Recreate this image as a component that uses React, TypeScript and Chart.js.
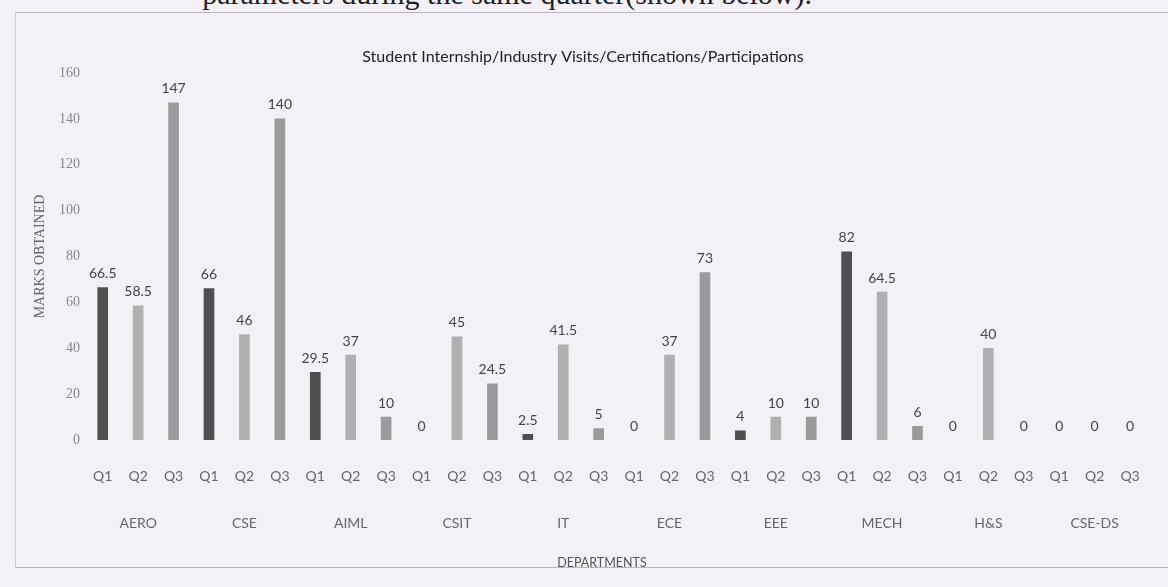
import React, { useEffect, useRef } from "react";
import { Chart, registerables } from "chart.js";

Chart.register(...registerables);

const departments = ["AERO", "CSE", "AIML", "CSIT", "IT", "ECE", "EEE", "MECH", "H&S", "CSE-DS"];
const quarters = ["Q1", "Q2", "Q3"];
const q1Values = [66.5, 66, 29.5, 0, 2.5, 0, 4, 82, 0, 0];
const q2Values = [58.5, 46, 37, 45, 41.5, 37, 10, 64.5, 40, 0];
const q3Values = [147, 140, 10, 24.5, 5, 73, 10, 6, 0, 0];
const yTicks = [0, 20, 40, 60, 80, 100, 120, 140, 160];
const quarterColors = ["#4f4f4f", "#b0b0b0", "#9a9a9a"];
const xAxisTitle = "DEPARTMENTS";

const FONT = "Lato, 'Open Sans', 'Noto Sans', sans-serif";
const SERIF = "'Liberation Serif', 'DejaVu Serif', serif";

export default function App() {
  const ref = useRef<HTMLCanvasElement | null>(null);

  useEffect(() => {
    const canvas = ref.current;
    if (!canvas) return;

    const labels: string[] = [];
    const values: number[] = [];
    const colors: string[] = [];
    const series = [q1Values, q2Values, q3Values];
    departments.forEach((_, d) => {
      quarters.forEach((q, qi) => {
        const v = series[qi][d];
        labels.push(q);
        values.push(v);
        colors.push(v === 0 ? "rgba(0,0,0,0)" : quarterColors[qi]);
      });
    });

    const valueLabels = {
      id: "valueLabels",
      afterDatasetsDraw(chart: any) {
        const ctx = chart.ctx;
        const meta = chart.getDatasetMeta(0);
        const data = chart.data.datasets[0].data;
        ctx.save();
        ctx.font = `14px ${FONT}`;
        ctx.fillStyle = "#444";
        ctx.textAlign = "center";
        ctx.textBaseline = "bottom";
        meta.data.forEach((el: any, i: number) => {
          ctx.fillText(String(data[i]), el.x, el.y - 7);
        });
        // x axis title, placed under the chart like the original
        const x2 = chart.scales.x2;
        ctx.font = `12.5px ${FONT}`;
        ctx.fillStyle = "#555";
        ctx.textBaseline = "middle";
        ctx.fillText(xAxisTitle, 602, x2.bottom - 12);
        ctx.restore();
      },
    };

    const chart = new Chart(canvas, {
      type: "bar",
      data: {
        labels,
        datasets: [
          {
            data: values,
            backgroundColor: colors,
            borderWidth: 0,
            barThickness: 10,
          },
        ],
      },
      options: {
        animation: false,
        responsive: false,
        layout: { padding: { left: 15, right: 17, top: 0, bottom: 12 } },
        plugins: {
          legend: { display: false },
          tooltip: { enabled: false },
          title: {
            display: true,
            text: "Student Internship/Industry Visits/Certifications/Participations",
            color: "#222",
            font: { family: FONT, size: 16, weight: "normal" },
            padding: { top: 47.4, bottom: 6.4 },
          },
        },
        scales: {
          x: {
            type: "category",
            position: "bottom",
            weight: 0,
            grid: { display: false, drawTicks: false },
            border: { display: false },
            ticks: {
              color: "#666",
              font: { family: FONT, size: 14 },
              padding: 28,
              autoSkip: false,
              maxRotation: 0,
            },
            afterFit: (s: any) => {
              s.height = 60;
            },
          },
          x2: {
            type: "category",
            position: "bottom",
            weight: 1,
            labels: departments,
            offset: true,
            grid: { display: false, drawTicks: false },
            border: { display: false },
            ticks: {
              color: "#666",
              font: { family: FONT, size: 14 },
              padding: 15,
              autoSkip: false,
              maxRotation: 0,
            },
            afterFit: (s: any) => {
              s.height = 75;
            },
          },
          y: {
            min: 0,
            max: 160,
            grid: { display: false, drawTicks: false },
            border: { display: false },
            afterBuildTicks: (s: any) => {
              s.ticks = yTicks.map((v) => ({ value: v }));
            },
            ticks: {
              color: "#888",
              font: { family: SERIF, size: 14 },
              padding: 5,
            },
            title: {
              display: true,
              text: "MARKS OBTAINED",
              color: "#666",
              font: { family: SERIF, size: 14 },
              padding: { top: 17, bottom: 0 },
            },
            afterFit: (s: any) => {
              s.width = 70;
            },
          },
        },
      },
      plugins: [valueLabels],
    });

    return () => chart.destroy();
  }, []);

  return (
    <div
      style={{
        position: "fixed",
        left: 0,
        top: 0,
        width: 1168,
        height: 587,
        overflow: "hidden",
        background: "#f3f0f7",
      }}
    >
      <div
        style={{
          position: "absolute",
          right: 356,
          top: -21,
          whiteSpace: "nowrap",
          fontFamily: SERIF,
          fontSize: 30,
          lineHeight: "30px",
          color: "#222",
        }}
      >
        parameters during the same quarter(shown below).
      </div>
      <div
        style={{
          position: "absolute",
          left: 15,
          top: 12,
          width: 1200,
          height: 556,
          borderTop: "1px solid #b8b6bc",
          borderLeft: "1px solid #cfcdd3",
          borderBottom: "1px solid #b8b6bc",
          boxSizing: "border-box",
        }}
      />
      <canvas
        ref={ref}
        width={1168}
        height={587}
        style={{ position: "absolute", left: 0, top: 0 }}
      />
    </div>
  );
}
